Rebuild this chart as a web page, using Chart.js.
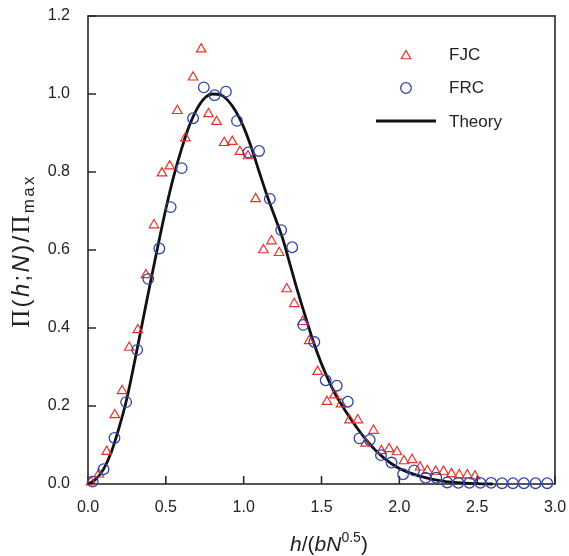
<!DOCTYPE html>
<html><head><meta charset="utf-8">
<script src="https://cdn.jsdelivr.net/npm/chart.js@4.4.0/dist/chart.umd.min.js"></script>
<style>html,body{margin:0;padding:0;background:#fff}canvas{display:block}</style>
</head><body>
<canvas id="c" width="569" height="556"></canvas>
<script>
const xTicks = [0, 0.5, 1.0, 1.5, 2.0, 2.5, 3.0];
const yTicks = [0, 0.2, 0.4, 0.6, 0.8, 1.0, 1.2];

const fjcX = [0.02,0.07,0.12,0.172,0.219,0.265,0.32,0.372,0.424,0.475,0.525,0.574,0.626,0.675,0.727,0.774,0.826,0.875,0.927,0.976,1.028,1.077,1.127,1.179,1.228,1.277,1.325,1.379,1.421,1.475,1.535,1.583,1.626,1.68,1.733,1.783,1.834,1.884,1.934,1.985,2.03,2.082,2.133,2.18,2.234,2.284,2.335,2.385,2.437,2.486];
const fjcY = [0.005,0.025,0.083,0.177,0.239,0.35,0.395,0.536,0.664,0.797,0.815,0.957,0.887,1.043,1.115,0.949,0.929,0.875,0.878,0.852,0.841,0.731,0.6,0.623,0.593,0.5,0.462,0.416,0.367,0.288,0.211,0.228,0.205,0.164,0.164,0.104,0.137,0.085,0.09,0.082,0.059,0.062,0.043,0.034,0.032,0.032,0.026,0.023,0.023,0.02];

const frcX = [0.03,0.10,0.17,0.245,0.316,0.387,0.458,0.531,0.602,0.675,0.744,0.813,0.886,0.957,1.03,1.099,1.168,1.241,1.312,1.383,1.454,1.527,1.598,1.669,1.744,1.81,1.882,1.95,2.024,2.095,2.168,2.237,2.308,2.379,2.45,2.52,2.59,2.66,2.73,2.80,2.875,2.95];
const frcY = [0.006,0.038,0.118,0.21,0.344,0.526,0.604,0.71,0.81,0.938,1.017,0.997,1.006,0.931,0.85,0.854,0.731,0.651,0.607,0.408,0.364,0.266,0.252,0.211,0.117,0.113,0.074,0.055,0.025,0.035,0.016,0.016,0.004,0.003,0.003,0.003,0.003,0.002,0.002,0.002,0.002,0.002];

const theoryX = [0,0.05,0.1,0.15,0.2,0.25,0.3,0.35,0.4,0.45,0.5,0.55,0.6,0.65,0.7,0.75,0.8,0.85,0.9,0.95,1.0,1.05,1.1,1.15,1.2,1.25,1.3,1.35,1.4,1.45,1.5,1.55,1.6,1.65,1.7,1.75,1.8,1.85,1.9,1.95,2.0,2.1,2.2,2.3,2.4,2.5,2.6];
const theoryY = [0,0.012,0.038,0.082,0.145,0.22,0.315,0.415,0.515,0.612,0.705,0.788,0.858,0.918,0.962,0.99,1.0,0.998,0.983,0.955,0.915,0.862,0.8,0.74,0.685,0.63,0.56,0.49,0.425,0.362,0.308,0.262,0.222,0.19,0.16,0.132,0.107,0.085,0.067,0.052,0.04,0.024,0.013,0.006,0.003,0.001,0];

const RED = '#e2332b';
const BLUE = '#3044a6';
const INK = '#222222';
const SANS = '"Liberation Sans", Arial, sans-serif';
const SERIF = '"Liberation Serif", "Times New Roman", serif';

function pts(xs, ys) { return xs.map((x, i) => ({x: x, y: ys[i]})); }

function drawSegments(ctx, segs, x, y, align, spacing) {
  spacing = spacing || 0;
  let total = 0;
  segs.forEach(s => { ctx.font = s.f; s.w = ctx.measureText(s.t).width + spacing * s.t.length; total += s.w; });
  let cx = align === 'center' ? x - total / 2 : x;
  ctx.textAlign = 'left';
  ctx.textBaseline = 'alphabetic';
  segs.forEach(s => {
    ctx.font = s.f;
    let px = cx;
    for (const ch of s.t) {
      ctx.fillText(ch, px, y + (s.dy || 0));
      px += ctx.measureText(ch).width + spacing;
    }
    cx += s.w;
  });
}

const decor = {
  id: 'decor',
  beforeDatasetsDraw(chart) {
    const {ctx, chartArea: a, scales} = chart;
    ctx.save();
    ctx.strokeStyle = '#2a2a2a';
    ctx.lineWidth = 1.6;
    ctx.strokeRect(a.left, a.top, a.right - a.left, a.bottom - a.top);
    ctx.beginPath();
    xTicks.forEach(v => {
      const p = scales.x.getPixelForValue(v);
      ctx.moveTo(p, a.bottom); ctx.lineTo(p, a.bottom - 8);
    });
    yTicks.forEach(v => {
      const p = scales.y.getPixelForValue(v);
      ctx.moveTo(a.left, p); ctx.lineTo(a.left + 8, p);
    });
    ctx.stroke();
    ctx.restore();
  },
  afterDraw(chart) {
    const {ctx} = chart;
    ctx.save();
    ctx.fillStyle = INK;
    // x title
    const xs = [
      {t: 'h', f: 'italic 21px ' + SANS},
      {t: '/(', f: '21px ' + SANS},
      {t: 'b', f: 'italic 21px ' + SANS},
      {t: 'N', f: 'italic 21px ' + SANS},
      {t: '0.5', f: '14px ' + SANS, dy: -9},
      {t: ')', f: '21px ' + SANS}
    ];
    drawSegments(ctx, xs, 329, 551, 'center', 0);
    // y title
    ctx.save();
    ctx.translate(29, 251);
    ctx.rotate(-Math.PI / 2);
    const ys = [
      {t: '\u03A0', f: '25px ' + SERIF},
      {t: '(', f: '24px ' + SANS},
      {t: 'h', f: 'italic 24px ' + SANS},
      {t: ';', f: '24px ' + SANS},
      {t: 'N', f: 'italic 24px ' + SANS},
      {t: ')/', f: '24px ' + SANS},
      {t: '\u03A0', f: '25px ' + SERIF},
      {t: 'max', f: '17px ' + SANS, dy: 5}
    ];
    drawSegments(ctx, ys, 0, 0, 'center', 2.3);
    ctx.restore();
    ctx.restore();
    // legend
    const ds = chart.data.datasets;
    ctx.save();
    ctx.fillStyle = 'rgba(0,0,0,0)';
    ctx.strokeStyle = RED; ctx.lineWidth = 1.2;
    Chart.helpers.drawPoint(ctx, {pointStyle: ds[0].pointStyle, radius: 5.5, borderWidth: 1.2, rotation: 0}, 406, 56);
    ctx.strokeStyle = BLUE; ctx.lineWidth = 1.3;
    Chart.helpers.drawPoint(ctx, {pointStyle: ds[1].pointStyle, radius: 5.3, borderWidth: 1.3, rotation: 0}, 406, 88);
    ctx.strokeStyle = '#111'; ctx.lineWidth = 2.8;
    ctx.beginPath(); ctx.moveTo(376, 121); ctx.lineTo(436, 121); ctx.stroke();
    ctx.fillStyle = INK;
    ctx.font = '17px ' + SANS;
    ctx.textAlign = 'left'; ctx.textBaseline = 'middle';
    ctx.fillText(ds[0].label, 449, 55);
    ctx.fillText(ds[1].label, 449, 88);
    ctx.fillText(ds[2].label, 449, 122);
    ctx.restore();
  }
};

new Chart(document.getElementById('c'), {
  type: 'scatter',
  data: {
    datasets: [
      {label: 'FJC', data: pts(fjcX, fjcY), pointStyle: 'triangle', pointRadius: 5.5, pointBorderWidth: 1.2,
       borderColor: RED, backgroundColor: 'rgba(0,0,0,0)', clip: false, order: 1},
      {label: 'FRC', data: pts(frcX, frcY), pointStyle: 'circle', pointRadius: 5.3, pointBorderWidth: 1.3,
       borderColor: BLUE, backgroundColor: 'rgba(0,0,0,0)', clip: false, order: 0},
      {label: 'Theory', data: pts(theoryX, theoryY), showLine: true, pointRadius: 0, borderColor: '#111',
       borderWidth: 2.8, cubicInterpolationMode: 'monotone', fill: false, clip: false, order: 2}
    ]
  },
  options: {
    responsive: false, animation: false, devicePixelRatio: 1,
    layout: {padding: {left: 0, right: 14, top: 16, bottom: 0}},
    plugins: {legend: {display: false}, tooltip: {enabled: false}},
    scales: {
      x: {
        type: 'linear', min: 0, max: 3,
        afterBuildTicks: s => { s.ticks = xTicks.map(v => ({value: v})); },
        afterFit: s => { s.height = 72; s.paddingLeft = 0; s.paddingRight = 0; },
        ticks: {callback: v => Number(v).toFixed(1), font: {family: SANS, size: 16}, color: INK, padding: 14, maxRotation: 0},
        grid: {display: false, drawTicks: false},
        border: {display: false}
      },
      y: {
        type: 'linear', min: 0, max: 1.2,
        afterBuildTicks: s => { s.ticks = yTicks.map(v => ({value: v})); },
        afterFit: s => { s.width = 88; s.paddingTop = 0; s.paddingBottom = 0; },
        ticks: {callback: v => Number(v).toFixed(1), font: {family: SANS, size: 16}, color: INK, padding: 18},
        grid: {display: false, drawTicks: false},
        border: {display: false}
      }
    }
  },
  plugins: [decor]
});
</script>
</body></html>
